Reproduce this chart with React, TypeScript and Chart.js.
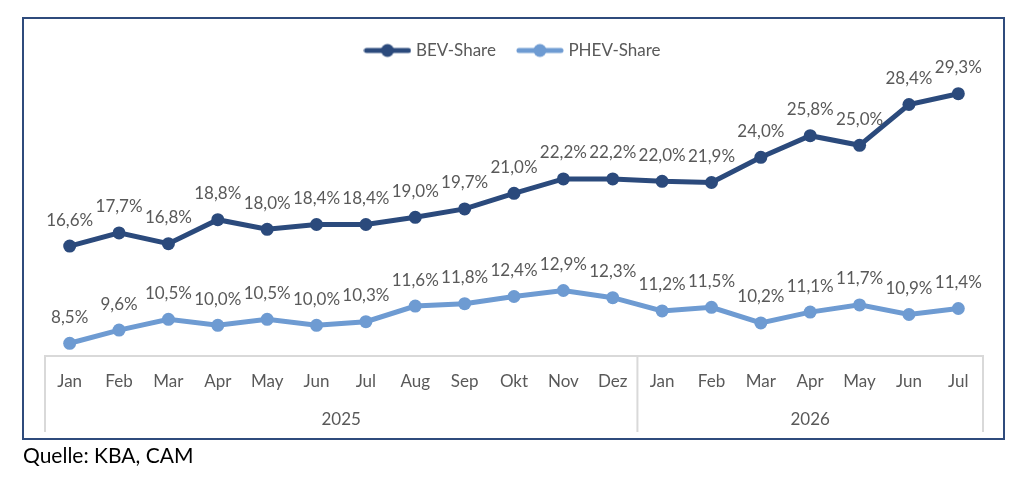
import React, { useEffect, useRef } from "react";
import { Chart, registerables } from "chart.js";

Chart.register(...registerables);

const months = ["Jan", "Feb", "Mar", "Apr", "May", "Jun", "Jul", "Aug", "Sep", "Okt", "Nov", "Dez", "Jan", "Feb", "Mar", "Apr", "May", "Jun", "Jul"];
const years = ["2025", "2026"];
const yearCounts = [12, 7];
const bevShare = [16.6, 17.7, 16.8, 18.8, 18.0, 18.4, 18.4, 19.0, 19.7, 21.0, 22.2, 22.2, 22.0, 21.9, 24.0, 25.8, 25.0, 28.4, 29.3];
const phevShare = [8.5, 9.6, 10.5, 10.0, 10.5, 10.0, 10.3, 11.6, 11.8, 12.4, 12.9, 12.3, 11.2, 11.5, 10.2, 11.1, 11.7, 10.9, 11.4];
const seriesNames = ["BEV-Share", "PHEV-Share"];

const BEV_COLOR = "#2B4A7C";
const PHEV_COLOR = "#6E9BD2";
const TEXT_COLOR = "#595959";
const FONT = "Lato";

const fmt = (v: number) => v.toFixed(1).replace(".", ",") + "%";

function makeIcon(color: string) {
  const c = document.createElement("canvas");
  c.width = 48;
  c.height = 16;
  const ctx = c.getContext("2d")!;
  ctx.strokeStyle = color;
  ctx.lineWidth = 5;
  ctx.lineCap = "round";
  ctx.beginPath();
  ctx.moveTo(3, 8);
  ctx.lineTo(45, 8);
  ctx.stroke();
  ctx.fillStyle = color;
  ctx.beginPath();
  ctx.arc(24, 8, 6.5, 0, Math.PI * 2);
  ctx.fill();
  return c;
}

const framePlugin = {
  id: "frame",
  beforeDraw(chart: any) {
    const ctx = chart.ctx;
    ctx.save();
    ctx.strokeStyle = "#2F4B7C";
    ctx.lineWidth = 2;
    ctx.strokeRect(23, 18, 981, 421);
    ctx.restore();
  },
};

const dataLabelPlugin = {
  id: "dataLabels",
  afterDatasetsDraw(chart: any) {
    const ctx = chart.ctx;
    ctx.save();
    ctx.font = `17px ${FONT}`;
    ctx.fillStyle = TEXT_COLOR;
    ctx.textAlign = "center";
    ctx.textBaseline = "middle";
    chart.data.datasets.forEach((ds: any, di: number) => {
      const meta = chart.getDatasetMeta(di);
      meta.data.forEach((pt: any, i: number) => {
        ctx.fillText(fmt(ds.data[i]), pt.x, pt.y - 26);
      });
    });
    ctx.restore();
  },
};

const yearAxisPlugin = {
  id: "yearAxis",
  afterDraw(chart: any) {
    const xs = chart.scales.x;
    const { bottom } = chart.chartArea;
    const ctx = chart.ctx;
    const n = months.length;
    const step = n > 1 ? xs.getPixelForValue(1) - xs.getPixelForValue(0) : 0;
    const boundary = (i: number) => xs.getPixelForValue(i) - step / 2;
    ctx.save();
    ctx.strokeStyle = "#D9D9D9";
    ctx.lineWidth = 2;
    let start = 0;
    const edges: number[] = [boundary(0)];
    yearCounts.forEach((c) => {
      start += c;
      edges.push(boundary(start));
    });
    edges.forEach((x) => {
      ctx.beginPath();
      ctx.moveTo(x, bottom);
      ctx.lineTo(x, bottom + 76);
      ctx.stroke();
    });
    ctx.font = `17px ${FONT}`;
    ctx.fillStyle = TEXT_COLOR;
    ctx.textAlign = "center";
    ctx.textBaseline = "middle";
    years.forEach((y, k) => {
      ctx.fillText(y, (edges[k] + edges[k + 1]) / 2, bottom + 64);
    });
    ctx.restore();
  },
};

export default function App() {
  const ref = useRef<HTMLCanvasElement | null>(null);

  useEffect(() => {
    if (!ref.current) return;
    const icons = [makeIcon(BEV_COLOR), makeIcon(PHEV_COLOR)];
    const chart = new Chart(ref.current, {
      type: "line",
      data: {
        labels: months,
        datasets: [
          {
            label: seriesNames[0],
            data: bevShare,
            borderColor: BEV_COLOR,
            backgroundColor: BEV_COLOR,
            pointBackgroundColor: BEV_COLOR,
            pointBorderWidth: 0,
            pointRadius: 6.5,
            borderWidth: 5,
            tension: 0,
          },
          {
            label: seriesNames[1],
            data: phevShare,
            borderColor: PHEV_COLOR,
            backgroundColor: PHEV_COLOR,
            pointBackgroundColor: PHEV_COLOR,
            pointBorderWidth: 0,
            pointRadius: 6.5,
            borderWidth: 5,
            tension: 0,
          },
        ],
      },
      options: {
        animation: false,
        responsive: false,
        maintainAspectRatio: false,
        layout: { padding: { left: 45, right: 41, top: 18, bottom: 0 } },
        plugins: {
          tooltip: { enabled: false },
          legend: {
            display: true,
            position: "top",
            labels: {
              usePointStyle: true,
              pointStyleWidth: 40,
              padding: 24,
              color: TEXT_COLOR,
              font: { family: FONT, size: 17 },
              generateLabels: (c: any) => {
                const items = (Chart.defaults.plugins.legend.labels as any).generateLabels(c);
                items.forEach((it: any, i: number) => {
                  it.pointStyle = icons[i];
                });
                return items;
              },
            },
          },
        },
        scales: {
          x: {
            type: "category",
            offset: true,
            grid: { display: false, drawTicks: false },
            border: { display: true, color: "#D9D9D9", width: 2 },
            ticks: {
              color: TEXT_COLOR,
              font: { family: FONT, size: 17 },
              padding: 15,
              maxRotation: 0,
              autoSkip: false,
            },
            afterFit: (s: any) => {
              s.height = 126;
            },
          },
          y: {
            display: false,
            min: 7.44,
            max: 31.36,
          },
        },
      },
      plugins: [framePlugin, dataLabelPlugin, yearAxisPlugin],
    } as any);
    return () => chart.destroy();
  }, []);

  return (
    <div style={{ position: "fixed", left: 0, top: 0, width: 1024, height: 482, background: "#fff" }}>
      <canvas ref={ref} width={1024} height={482} style={{ display: "block", width: 1024, height: 482 }} />
      <div
        style={{
          position: "absolute",
          left: 23,
          top: 444,
          fontFamily: FONT,
          fontSize: 21,
          lineHeight: 1,
          color: "#000",
          whiteSpace: "nowrap",
        }}
      >
        Quelle: KBA, CAM
      </div>
    </div>
  );
}
